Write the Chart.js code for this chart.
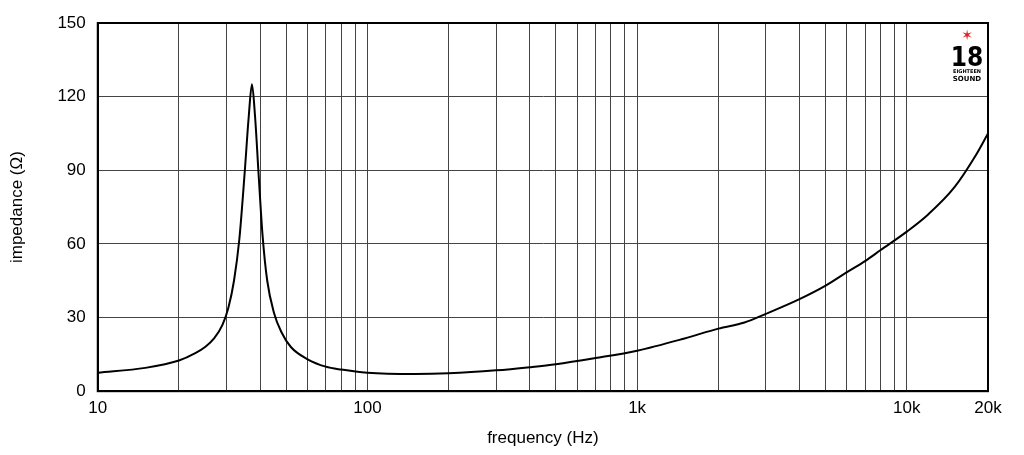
<!DOCTYPE html>
<html><head><meta charset="utf-8">
<script src="https://cdn.jsdelivr.net/npm/chart.js@4/dist/chart.umd.min.js"></script>
<style>html,body{margin:0;background:#fff}#w{width:1024px;height:455px}</style>
</head><body><div id="w"><canvas id="c"></canvas></div>
<script>
const freqs=[10,15,20,23,25,27,29,30.5,32,33.5,35,36.3,37.3,38.3,39.5,40.8,42.5,45,48,52,60,70,80,100,150,200,300,400,500,700,1000,1500,2000,2500,3000,4000,5000,6000,7000,8000,10000,12000,15000,18000,20000];
const imped=[7.5,9.5,12.5,15.5,18,21.5,27,34,45,62,88,112,125,112,88,64,45,32,24,18,13,10,8.8,7.5,7,7.3,8.5,9.8,11,13.5,16.5,21.5,25.5,28,31.5,37.5,43,48.5,53,57.5,65,72,83,96,105];
const xLabels={10:'10',100:'100',1000:'1k',10000:'10k',20000:'20k'};
const yTicks=[0,30,60,90,120,150];
const gridX=[];for(let d=10;d<=10000;d*=10)for(let m=1;m<10;m++){if(d*m<20000)gridX.push(d*m);}gridX.push(20000);
const logo={id:'logo',afterDraw(ch){const c=ch.ctx,a=ch.chartArea;c.save();c.textAlign='center';
c.fillStyle='#e02020';c.font='bold 14px DejaVu Sans';c.fillText('✶',a.right-21,40);
c.fillStyle='#000';c.font='bold 26px "Liberation Sans Narrow", "DejaVu Sans Condensed"';c.fillText('18',a.right-21,66);
c.font='bold 5px DejaVu Sans';c.fillText('EIGHTEEN',a.right-21,73);c.font='bold 7px DejaVu Sans';c.fillText('SOUND',a.right-21,81);c.restore();}};
new Chart(document.getElementById('c'),{type:'line',
data:{datasets:[{data:freqs.map((f,i)=>({x:f,y:imped[i]})),borderColor:'#000',borderWidth:2,pointRadius:0,cubicInterpolationMode:'monotone'}]},
options:{responsive:true,maintainAspectRatio:false,animation:false,layout:{padding:{top:23,right:36,left:7,bottom:6}},
plugins:{legend:{display:false},tooltip:{enabled:false}},
scales:{x:{type:'logarithmic',min:10,max:20000,afterBuildTicks(s){s.ticks=gridX.map(v=>({value:v}));},
ticks:{autoSkip:false,maxRotation:0,color:'#000',padding:7,font:{size:17,family:'Liberation Sans'},callback:v=>xLabels[v]||''},
grid:{color:'#444',lineWidth:1,drawTicks:false},border:{color:'#000',width:2},
title:{display:true,text:'frequency (Hz)',color:'#000',padding:{top:3,bottom:0},font:{size:17,family:'Liberation Sans'}}},
y:{min:0,max:150,afterBuildTicks(s){s.ticks=yTicks.map(v=>({value:v}));},
ticks:{color:'#000',font:{size:17,family:'Liberation Sans'},padding:12},
grid:{color:'#444',lineWidth:1,drawTicks:false},border:{color:'#000',width:2},
title:{display:true,text:'impedance (Ω)',color:'#000',padding:{top:0,bottom:18},font:{size:17,family:'Liberation Sans'}}}}},
plugins:[logo,{id:'frame',afterDraw(ch){const c=ch.ctx,a=ch.chartArea;c.save();c.strokeStyle='#000';c.lineWidth=2;c.strokeRect(a.left,a.top,a.right-a.left,a.bottom-a.top);c.restore();}}]});
</script></body></html>
